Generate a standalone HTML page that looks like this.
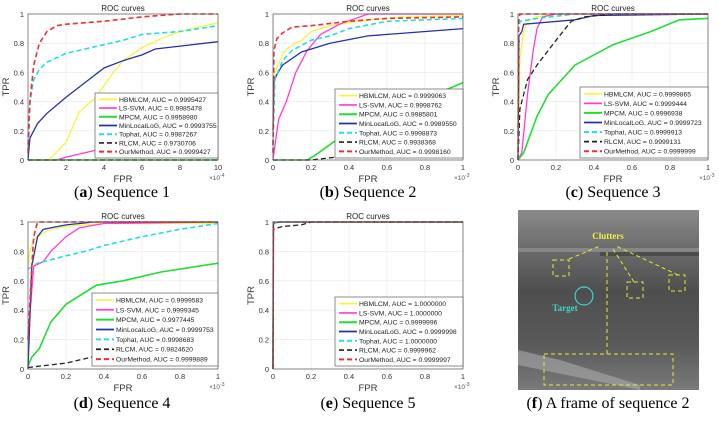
<!DOCTYPE html>
<html><head><meta charset="utf-8">
<style>
html,body{margin:0;padding:0;background:#fff;}
body{width:719px;height:423px;overflow:hidden;position:relative;}
svg{position:absolute;left:0;top:0;}
.cap{position:absolute;font-family:"Liberation Serif",serif;font-size:16px;color:#000;white-space:nowrap;transform:translateX(-50%);}
</style></head>
<body>
<svg id="fig" width="719" height="423" viewBox="0 0 719 423"></svg>
<div class="cap" style="left:122px;top:184px">(<b>a</b>) Sequence 1</div>
<div class="cap" style="left:368px;top:184px">(<b>b</b>) Sequence 2</div>
<div class="cap" style="left:613px;top:184px">(<b>c</b>) Sequence 3</div>
<div class="cap" style="left:122px;top:395px">(<b>d</b>) Sequence 4</div>
<div class="cap" style="left:368px;top:395px">(<b>e</b>) Sequence 5</div>
<div class="cap" style="left:608px;top:395px">(<b>f</b>) A frame of sequence 2</div>
<script>
// ---------- data ----------
const methods=["HBMLCM","LS-SVM","MPCM","MinLocalLoG","Tophat","RLCM","OurMethod"];
const xTicksA=[2,4,6,8,10];
const xTicksOther=[0,0.2,0.4,0.6,0.8,1];
const yTicks=[0,0.2,0.4,0.6,0.8,1];
const aucA=["0.9995427","0.9985478","0.9958980","0.9993755","0.9987267","0.9730706","0.9999427"];
const aucB=["0.9999063","0.9998762","0.9985801","0.9989550","0.9998873","0.9938368","0.9998160"];
const aucC=["0.9999865","0.9999444","0.9996938","0.9999723","0.9999913","0.9999131","0.9999999"];
const aucD=["0.9999583","0.9999345","0.9977445","0.9999753","0.9998683","0.9824620","0.9999889"];
const aucE=["1.0000000","1.0000000","0.9999996","0.9999998","1.0000000","0.9999962","0.9999997"];
// panel a (FPR x1e-4)
const aHBMLCM=[[0,0],[1.1,0],[2,0.12],[2.7,0.33],[3.5,0.42],[4.5,0.6],[5,0.68],[6,0.77],[7,0.83],[8,0.88],[10,0.94]];
const aLSSVM=[[0,0],[1.5,0],[2,0.02],[3,0.05],[4,0.08],[5,0.1],[7,0.2],[10,0.4]];
const aMPCM=[[0,0],[10,0]];
const aMinLocalLoG=[[0,0],[0.1,0.15],[0.5,0.25],[1,0.32],[2,0.43],[3,0.53],[4,0.63],[5,0.68],[6,0.72],[6.7,0.76],[8,0.78],[10,0.81]];
const aTophat=[[0,0.1],[0.1,0.4],[0.3,0.55],[0.6,0.62],[1,0.67],[2,0.73],[3,0.76],[4,0.79],[5,0.82],[6,0.86],[8,0.88],[10,0.92]];
const aRLCM=[[0,0],[10,0]];
const aOurMethod=[[0,0.05],[0.1,0.4],[0.3,0.65],[0.6,0.8],[1,0.88],[1.5,0.92],[2,0.93],[4,0.95],[6,0.98],[8,1],[10,1]];
// panel b
const bHBMLCM=[[0,0.3],[0.01,0.6],[0.05,0.72],[0.08,0.77],[0.15,0.82],[0.2,0.88],[0.3,0.92],[0.5,0.96],[0.7,0.98],[1,0.99]];
const bLSSVM=[[0,0],[0.01,0.1],[0.03,0.28],[0.07,0.4],[0.12,0.6],[0.18,0.75],[0.25,0.86],[0.35,0.93],[0.5,1],[1,1]];
const bMPCM=[[0,0],[0.18,0],[0.23,0.04],[0.4,0.2],[0.6,0.3],[0.8,0.42],[1,0.53]];
const bMinLocalLoG=[[0,0.2],[0.005,0.55],[0.05,0.65],[0.15,0.74],[0.3,0.8],[0.5,0.85],[0.7,0.87],[1,0.9]];
const bTophat=[[0,0.1],[0.01,0.55],[0.05,0.68],[0.1,0.75],[0.2,0.82],[0.3,0.85],[0.4,0.9],[0.6,0.95],[1,0.97]];
const bRLCM=[[0,0],[0.2,0],[0.4,0.03],[0.6,0.07],[0.8,0.12],[1,0.18]];
const bOurMethod=[[0,0.05],[0.005,0.75],[0.02,0.83],[0.05,0.87],[0.1,0.91],[0.2,0.92],[0.4,0.95],[0.6,0.97],[1,0.98]];
// panel c
const cHBMLCM=[[0,0],[0.01,0.7],[0.03,0.88],[0.05,0.95],[0.1,0.98],[0.2,1],[1,1]];
const cLSSVM=[[0,0],[0.02,0.05],[0.05,0.45],[0.08,0.75],[0.1,0.9],[0.13,0.98],[0.2,1],[1,1]];
const cMPCM=[[0,0],[0.03,0.05],[0.1,0.3],[0.16,0.45],[0.3,0.65],[0.5,0.79],[0.7,0.88],[0.85,0.96],[1,0.97]];
const cMinLocalLoG=[[0,0],[0.005,0.85],[0.02,0.88],[0.03,0.93],[0.3,0.96],[0.4,0.99],[1,1]];
const cTophat=[[0,0],[0.003,0.9],[0.01,0.95],[0.1,0.97],[0.3,1],[1,1]];
const cRLCM=[[0,0],[0.01,0.35],[0.05,0.55],[0.1,0.65],[0.2,0.82],[0.28,0.95],[0.35,0.98],[0.5,1],[1,1]];
const cOurMethod=[[0,0],[0.003,0.95],[0.01,1],[1,1]];
// panel d
const dHBMLCM=[[0,0.7],[0.01,0.8],[0.03,0.88],[0.1,0.94],[0.2,0.97],[0.4,0.99],[1,0.99]];
const dLSSVM=[[0,0.2],[0.03,0.7],[0.08,0.73],[0.12,0.8],[0.2,0.9],[0.27,0.96],[0.4,0.99],[1,1]];
const dMPCM=[[0,0.02],[0.02,0.08],[0.06,0.14],[0.12,0.32],[0.2,0.44],[0.36,0.57],[0.5,0.6],[0.7,0.66],[1,0.72]];
const dMinLocalLoG=[[0,0],[0.02,0.7],[0.05,0.9],[0.08,0.95],[0.2,0.98],[0.35,1],[1,1]];
const dTophat=[[0,0.68],[0.05,0.72],[0.2,0.77],[0.3,0.8],[0.4,0.84],[0.6,0.9],[0.8,0.95],[1,0.99]];
const dRLCM=[[0,0.01],[0.2,0.04],[0.4,0.1],[0.7,0.2],[1,0.29]];
const dOurMethod=[[0,0.2],[0.02,0.7],[0.03,0.9],[0.05,1],[1,1]];
// panel e
const eHBMLCM=[[0,0],[0.002,0.99],[0.03,1],[1,1]];
const eLSSVM=[[0,0],[0.002,0.99],[0.03,1],[1,1]];
const eMPCM=[[0,0],[0.002,0.99],[0.03,1],[1,1]];
const eMinLocalLoG=[[0,0],[0.002,0.99],[0.03,1],[1,1]];
const eTophat=[[0,0],[0.002,0.99],[0.03,1],[1,1]];
const eRLCM=[[0,0],[0.002,0.95],[0.05,0.97],[0.15,0.98],[0.2,1],[1,1]];
const eOurMethod=[[0,0],[0.002,1],[1,1]];

// ---------- rendering ----------
const NS="http://www.w3.org/2000/svg";
const svg=document.getElementById('fig');
const styles=[
 {c:"#f5f542",d:null,w:1.3},{c:"#ff3cd8",d:null,w:1.3},{c:"#22dd33",d:null,w:1.6},
 {c:"#2233aa",d:null,w:1.3},{c:"#22dde8",d:"5,3",w:1.6},{c:"#222222",d:"5,3",w:1.3},{c:"#ee3030",d:"5,3",w:1.6}];
function mk(tag,attrs,parent){const e=document.createElementNS(NS,tag);for(const k in attrs)e.setAttribute(k,attrs[k]);(parent||svg).appendChild(e);return e;}
function panel(id,box,xmax,xticks,mult,series,auc,leg){
  const g=mk('g',{});
  
  
  const sx=v=>box.L+(v/xmax)*(box.R-box.L);
  const sy=v=>box.B-v*(box.B-box.T);
  mk('rect',{x:box.L,y:box.T,width:box.R-box.L,height:box.B-box.T,fill:'#fff'},g);
  xticks.forEach(t=>{
    const ln=mk('line',{x1:sx(t),x2:sx(t),y1:box.T,y2:box.B,stroke:'#e6e6e6','stroke-width':0.6},g);
    
    
    const tx=mk('text',{x:sx(t),y:box.B+10,'font-size':7.5,'text-anchor':'middle','font-family':'Liberation Sans, sans-serif',fill:'#333'},g);
    tx.textContent=String(t);
    
    
  });
  yTicks.forEach(t=>{
    const ln=mk('line',{x1:box.L,x2:box.R,y1:sy(t),y2:sy(t),stroke:'#e6e6e6','stroke-width':0.6},g);
    
    
    const tx=mk('text',{x:box.L-4,y:sy(t)+3,'font-size':7.5,'text-anchor':'end','font-family':'Liberation Sans, sans-serif',fill:'#333'},g);
    tx.textContent=String(t);
    
    
  });
  series.forEach((pts,i)=>{
    const st=styles[i];
    const p=mk('polyline',{points:pts.map(q=>sx(q[0]).toFixed(1)+','+sy(q[1]).toFixed(1)).join(' '),fill:'none',stroke:st.c,'stroke-width':st.w},g);
    if(st.d)p.setAttribute('stroke-dasharray',st.d);
    
    
  });
  const fr=mk('rect',{x:box.L,y:box.T,width:box.R-box.L,height:box.B-box.T,fill:'none',stroke:'#555','stroke-width':0.7},g);
  
  
  const ti=mk('text',{x:(box.L+box.R)/2,y:box.T-3,'font-size':8,'text-anchor':'middle','font-family':'Liberation Sans, sans-serif',fill:'#222'},g);
  ti.textContent='ROC curves';
  
  
  const xl=mk('text',{x:(box.L+box.R)/2,y:box.B+22,'font-size':9.5,'text-anchor':'middle','font-family':'Liberation Sans, sans-serif',fill:'#333'},g);
  xl.textContent='FPR';
  
  
  const yl=mk('text',{x:box.L-19,y:(box.T+box.B)/2,'font-size':9.5,'text-anchor':'middle','font-family':'Liberation Sans, sans-serif',fill:'#333',transform:'rotate(-90 '+(box.L-19)+' '+((box.T+box.B)/2)+')'},g);
  yl.textContent='TPR';
  
  
  const mt=mk('text',{x:box.R-9,y:box.B+20,'font-size':6.5,'font-family':'Liberation Sans, sans-serif',fill:'#555'},g);
  mt.textContent='×10';
  const sp=mk('tspan',{dy:-3,'font-size':5},mt);
  sp.textContent=mult;
  
  
  // legend
  const lg=mk('g',{},g);
  
  
  mk('rect',{x:leg.x,y:leg.y,width:box.R-leg.x,height:leg.h,fill:'#fff',stroke:'#444','stroke-width':0.6},lg);
  const rh=(leg.h-4)/7;
  methods.forEach((m,i)=>{
    const y=leg.y+2+rh*(i+0.5);
    const st=styles[i];
    const ln=mk('line',{x1:leg.x+4,x2:leg.x+22,y1:y,y2:y,stroke:st.c,'stroke-width':st.w+0.4},lg);
    if(st.d)ln.setAttribute('stroke-dasharray',st.d);
    
    
    const tx=mk('text',{x:leg.x+24,y:y+2.5,'font-size':6.8,'font-family':'Liberation Sans, sans-serif',fill:'#222'},lg);
    tx.textContent=m+', AUC = '+auc[i];
    
    
  });
}
panel('a',{L:28,R:218,T:14,B:160},10,xTicksA,'-4',[aHBMLCM,aLSSVM,aMPCM,aMinLocalLoG,aTophat,aRLCM,aOurMethod],aucA,{x:95,y:93,h:65});
panel('b',{L:273,R:463,T:14,B:160},1,xTicksOther,'-3',[bHBMLCM,bLSSVM,bMPCM,bMinLocalLoG,bTophat,bRLCM,bOurMethod],aucB,{x:335,y:89,h:69});
panel('c',{L:518,R:708,T:14,B:160},1,xTicksOther,'-3',[cHBMLCM,cLSSVM,cMPCM,cMinLocalLoG,cTophat,cRLCM,cOurMethod],aucC,{x:580,y:87,h:71});
panel('d',{L:28,R:218,T:222,B:369},1,xTicksOther,'-3',[dHBMLCM,dLSSVM,dMPCM,dMinLocalLoG,dTophat,dRLCM,dOurMethod],aucD,{x:92,y:293,h:73});
panel('e',{L:273,R:463,T:222,B:369},1,xTicksOther,'-3',[eHBMLCM,eLSSVM,eMPCM,eMinLocalLoG,eTophat,eRLCM,eOurMethod],aucE,{x:335,y:297,h:69});
</script>
<svg width="719" height="423" viewBox="0 0 719 423" style="pointer-events:none">
 <defs>
  <linearGradient id="bg" x1="0" y1="0" x2="0" y2="1">
   <stop offset="0" stop-color="#8a8a8a"/><stop offset="0.2" stop-color="#6e6e6e"/>
   <stop offset="0.45" stop-color="#4e4e4e"/><stop offset="0.75" stop-color="#5a5a5a"/><stop offset="1" stop-color="#7a7a7a"/>
  </linearGradient>
 </defs>
 <rect x="518" y="210" width="181" height="180" fill="url(#bg)"/>
 <rect x="518" y="248" width="181" height="4" fill="#9a9a9a" opacity="0.6"/>
 <rect x="600" y="252" width="99" height="4" fill="#3a3a3a" opacity="0.6"/>
 <polygon points="518,350 560,360 640,385 640,390 518,365" fill="#aaaaaa" opacity="0.6"/>
 <g fill="none" stroke="#e8e830" stroke-width="1" stroke-dasharray="4,3">
  <rect x="553" y="260" width="16" height="16"/>
  <rect x="627" y="282" width="16" height="16"/>
  <rect x="669" y="275" width="16" height="16"/>
  <rect x="544" y="354" width="129" height="31"/>
  <polyline points="607,354 607,250"/>
  <line x1="569" y1="259" x2="600" y2="246"/>
  <line x1="634" y1="282" x2="613" y2="249"/>
  <line x1="678" y1="275" x2="616" y2="246"/>
 </g>
 <text x="608" y="239" font-family="Liberation Serif, serif" font-size="9" font-weight="bold" fill="#f0f040" text-anchor="middle">Clutters</text>
 <circle cx="584" cy="296" r="9" fill="none" stroke="#3ad6c8" stroke-width="1.2"/>
 <text x="565" y="311" font-family="Liberation Serif, serif" font-size="9" font-weight="bold" fill="#3ad6c8" text-anchor="middle">Target</text>
</svg>
</body></html>
